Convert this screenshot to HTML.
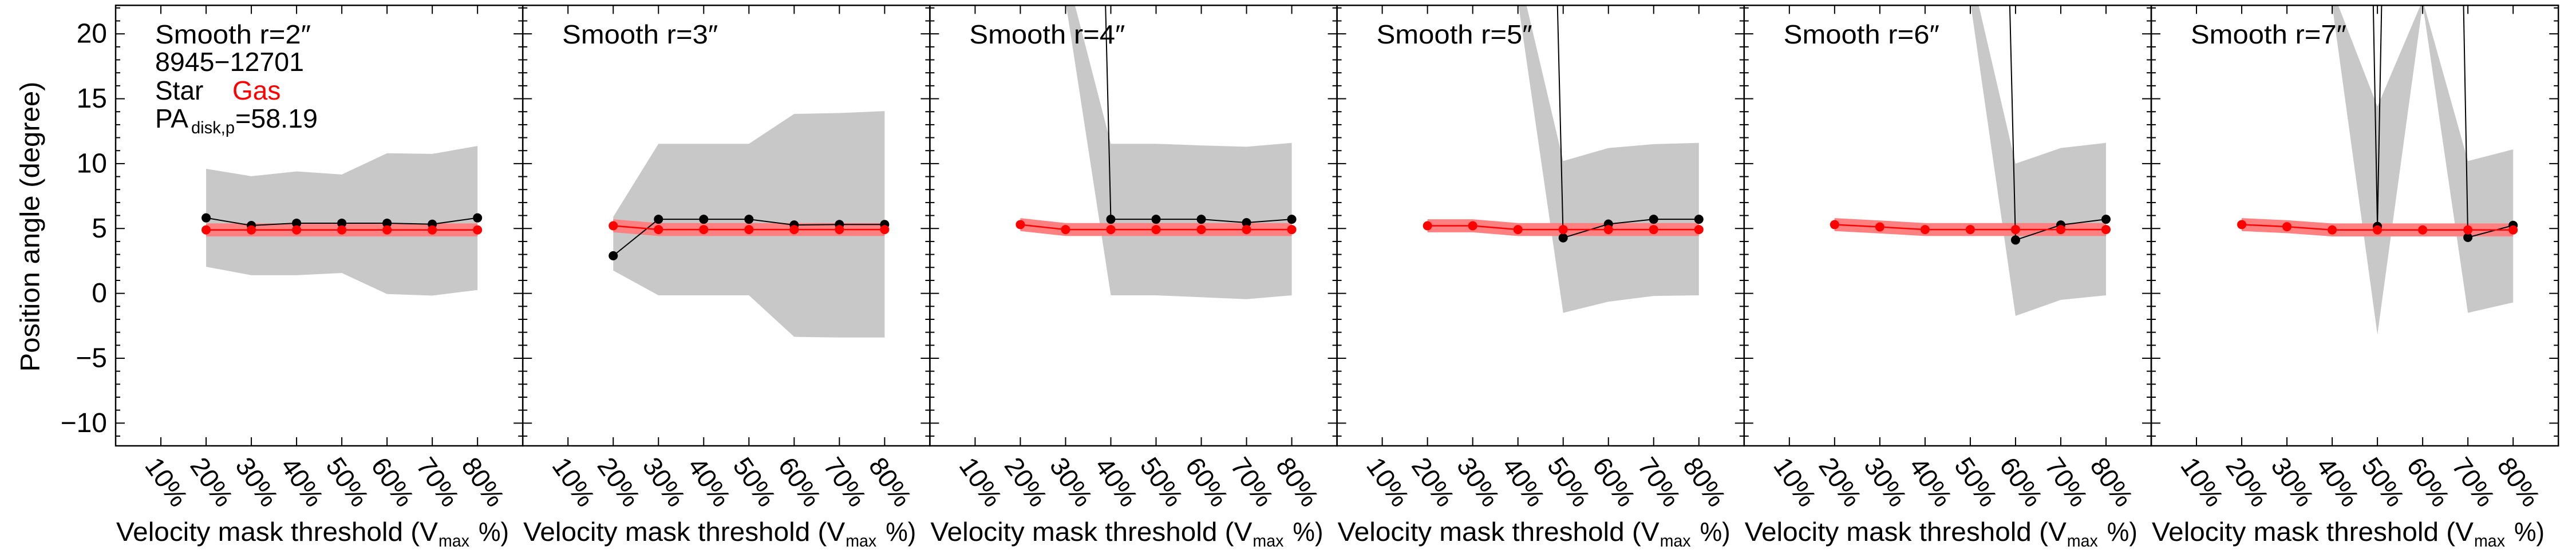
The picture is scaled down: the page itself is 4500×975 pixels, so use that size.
<!DOCTYPE html>
<html><head><meta charset="utf-8"><style>
html,body{margin:0;padding:0;background:#fff;}
svg{display:block;font-family:"Liberation Sans",Arial,sans-serif;}
</style></head><body>
<svg id="chart" width="4500" height="975" viewBox="0 0 4500 975" xmlns="http://www.w3.org/2000/svg">
<rect width="4500" height="975" fill="#fff"/>
<text transform="translate(52,396) rotate(-90)" text-anchor="middle" dominant-baseline="central" font-size="47" textLength="507" lengthAdjust="spacingAndGlyphs">Position angle (degree)</text>
<g id="panels"></g>
</svg>
<script>
const thresholdTicks = [10,20,30,40,50,60,70,80];
const tickLabels = ["10%","20%","30%","40%","50%","60%","70%","80%"];
const xValues = [20,30,40,50,60,70,80];
const yTicks = [20,15,10,5,0,-5,-10];
const smoothRadii = [2,3,4,5,6,7];
const starPA = [
 [5.82,5.23,5.41,5.41,5.41,5.33,5.82],
 [2.9,5.71,5.71,5.71,5.27,5.31,5.31],
 [null,146,5.71,5.71,5.71,5.45,5.71],
 [null,null,146,4.28,5.34,5.71,5.71],
 [null,null,null,146,4.11,5.27,5.71],
 [null,null,190,5.16,190,4.31,5.24]
];
const gasPA = [
 [4.89,4.89,4.89,4.89,4.89,4.89,4.89],
 [5.21,4.92,4.92,4.92,4.92,4.92,4.92],
 [5.3,4.92,4.92,4.92,4.92,4.92,4.92],
 [5.21,5.21,4.92,4.92,4.92,4.92,4.92],
 [5.3,5.12,4.92,4.92,4.92,4.92,4.92],
 [5.3,5.14,4.89,4.89,4.89,4.89,4.89]
];
const gasErr = 0.5;
const starUpper = [
 [9.6,9.03,9.4,9.16,10.8,10.75,11.36],
 [5.9,11.53,11.53,11.53,13.83,13.9,14.05],
 [null,25,11.53,11.53,11.4,11.3,11.6],
 [null,null,25,10.2,11.2,11.5,11.6],
 [null,null,null,25,10.0,11.2,11.6],
 [null,null,23.4,14.4,22.6,10.2,11.1]
];
const starLower = [
 [2.05,1.4,1.4,1.57,-0.05,-0.17,0.26],
 [1.76,-0.15,-0.15,-0.15,-3.35,-3.4,-3.4],
 [null,22.5,-0.15,-0.15,-0.3,-0.45,-0.15],
 [null,null,22.5,-1.5,-0.64,-0.2,-0.15],
 [null,null,null,22.5,-1.74,-0.5,-0.15],
 [null,null,22.2,-3.17,22.3,-1.5,-0.7]
];

const NS = "http://www.w3.org/2000/svg";
const P0 = 202, PW = 711.2, TOP = 9.3, BOT = 779;
const XMIN = 0, XMAX = 90, YMIN = -11.75, YMAX = 22.2;
function el(tag, attrs, parent){const e=document.createElementNS(NS,tag);for(const k in attrs)e.setAttribute(k,attrs[k]);if(parent)parent.appendChild(e);return e;}
function yS(v){return TOP+(YMAX-v)/(YMAX-YMIN)*(BOT-TOP);}
const root = document.getElementById('panels');

smoothRadii.forEach((r,pi)=>{
  const L = P0+pi*PW, R = L+PW;
  const xS = v => L+(v-XMIN)/(XMAX-XMIN)*PW;
  const g = el('g',{},root);
  
  
  const cp = el('clipPath',{id:'clip'+pi},g);
  el('rect',{x:L,y:TOP,width:PW,height:BOT-TOP},cp);
  const plot = el('g',{'clip-path':'url(#clip'+pi+')'},g);
  const up=[],lo=[];
  xValues.forEach((x,i)=>{ if(starUpper[pi][i]!==null){up.push([xS(x),yS(starUpper[pi][i])]);lo.push([xS(x),yS(starLower[pi][i])]);} });
  const band = el('polygon',{points:up.concat(lo.reverse()).map(p=>p.join(',')).join(' '),fill:'#c8c8c8'},plot);
  
  
  const gu=[],gl=[];
  xValues.forEach((x,i)=>{gu.push([xS(x),yS(gasPA[pi][i]+gasErr)]);gl.push([xS(x),yS(gasPA[pi][i]-gasErr)]);});
  const gb = el('polygon',{points:gu.concat(gl.reverse()).map(p=>p.join(',')).join(' '),fill:'#ff8080'},plot);
  
  
  const sp=[];
  xValues.forEach((x,i)=>{ if(starPA[pi][i]!==null) sp.push([xS(x),yS(starPA[pi][i])]); });
  const sl = el('polyline',{points:sp.map(p=>p.join(',')).join(' '),fill:'none',stroke:'#000','stroke-width':2},plot);
  
  
  const gp = xValues.map((x,i)=>[xS(x),yS(gasPA[pi][i])]);
  const gline = el('polyline',{points:gp.map(p=>p.join(',')).join(' '),fill:'none',stroke:'#ff0000','stroke-width':2.5},plot);
  
  
  sp.forEach(p=>{const c=el('circle',{cx:p[0],cy:p[1],r:8,fill:'#000'},plot);
    
    });
  gp.forEach(p=>{const c=el('circle',{cx:p[0],cy:p[1],r:8,fill:'#ff0000'},plot);
    
    });
  const fr = el('rect',{x:L,y:TOP,width:PW,height:BOT-TOP,fill:'none',stroke:'#000','stroke-width':2.5},g);
  
  
  for(let v=-11; v<=22; v++){
    const len = (v%5===0)?16:8, y=yS(v);
    el('line',{x1:L,x2:L+len,y1:y,y2:y,stroke:'#000','stroke-width':2},g);
    el('line',{x1:R,x2:R-len,y1:y,y2:y,stroke:'#000','stroke-width':2},g);
  }
  thresholdTicks.forEach((t,i)=>{
    const x=xS(t);
    el('line',{x1:x,x2:x,y1:BOT,y2:BOT-15,stroke:'#000','stroke-width':2},g);
    el('line',{x1:x,x2:x,y1:TOP,y2:TOP+15,stroke:'#000','stroke-width':2},g);
    const tl = el('text',{transform:`translate(${x+10},842) rotate(55)`,'text-anchor':'middle','dominant-baseline':'central','font-size':46},g);
    
    
    tl.textContent = tickLabels[i];
  });
  const t1 = el('text',{x:L+1,y:945,'font-size':46,textLength:562,lengthAdjust:'spacingAndGlyphs'},g);
  
  
  t1.textContent='Velocity mask threshold (V';
  const t2 = el('text',{x:L+564,y:955,'font-size':30,textLength:54,lengthAdjust:'spacingAndGlyphs'},g);
  
  
  t2.textContent='max';
  const t3 = el('text',{x:L+634,y:945,'font-size':46,textLength:53,lengthAdjust:'spacingAndGlyphs'},g);
  
  
  t3.textContent='%)';
  const sm = el('text',{x:L+69,y:76,'font-size':46,textLength:272,lengthAdjust:'spacingAndGlyphs'},g);
  
  
  sm.textContent='Smooth r='+r+'\u2033';
  if(pi===0){
    yTicks.forEach(v=>{
      const yl = el('text',{x:187,y:yS(v),'text-anchor':'end','dominant-baseline':'central','font-size':48},g);
      
      
      yl.textContent = v<0 ? '\u2212'+(-v) : String(v);
    });
    const id = el('text',{x:271,y:124,'font-size':46,textLength:260,lengthAdjust:'spacingAndGlyphs'},g);
    
    
    id.textContent='8945\u221212701';
    const st = el('text',{x:271,y:174,'font-size':46},g);
    
    
    st.textContent='Star';
    const gs = el('text',{x:406,y:174,'font-size':46,fill:'#ff0000'},g);
    
    
    gs.textContent='Gas';
    const pa = el('text',{x:271,y:223,'font-size':46},g);
    
    
    pa.textContent='PA';
    const pas = el('text',{x:334,y:233,'font-size':30,textLength:76,lengthAdjust:'spacingAndGlyphs'},g);
    
    
    pas.textContent='disk,p';
    const pav = el('text',{x:411,y:223,'font-size':46,textLength:144,lengthAdjust:'spacingAndGlyphs'},g);
    
    
    pav.textContent='=58.19';
  }
});
</script>
</body></html>
